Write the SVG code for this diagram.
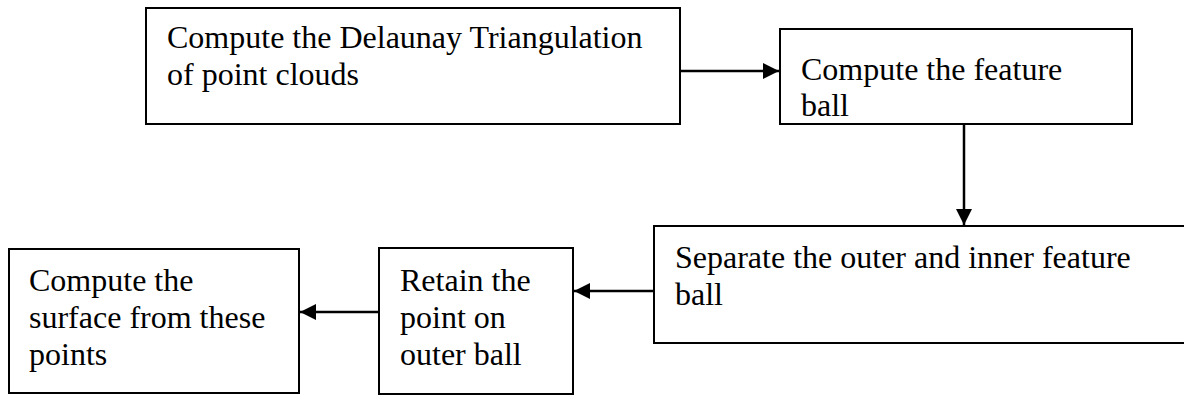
<svg xmlns="http://www.w3.org/2000/svg" width="1184" height="396" viewBox="0 0 1184 396">
<style>
.box{fill:#fff;stroke:#000;stroke-width:2}
.t{font-family:"Liberation Serif","Times New Roman",serif;font-size:32px;fill:#000}
.c{stroke:#000;stroke-width:2.5;fill:none}
</style>
<defs>
<marker id="ah" markerUnits="userSpaceOnUse" markerWidth="17" markerHeight="16" refX="16" refY="8" orient="auto">
<path d="M0,0 L16,8 L0,16 Z" fill="#000"/>
</marker>
</defs>
<rect width="1184" height="396" fill="#fff"/>
<g id="n1">
<rect class="box" x="146" y="8" width="534" height="116"/>
<text class="t" x="167" y="48">Compute the Delaunay Triangulation</text>
<text class="t" x="167" y="85">of point clouds</text>
</g>
<g id="n2">
<rect class="box" x="780" y="29" width="352" height="95"/>
<text class="t" x="801" y="80">Compute the feature</text>
<text class="t" x="801" y="116">ball</text>
</g>
<g id="n3">
<rect class="box" x="654" y="226" width="540" height="117"/>
<text class="t" x="675" y="268">Separate the outer and inner feature</text>
<text class="t" x="675" y="305">ball</text>
</g>
<g id="n4">
<rect class="box" x="379" y="248" width="194" height="146"/>
<text class="t" x="400" y="291">Retain the</text>
<text class="t" x="400" y="328">point on</text>
<text class="t" x="400" y="365">outer ball</text>
</g>
<g id="n5">
<rect class="box" x="9" y="249" width="290" height="144"/>
<text class="t" x="29" y="291">Compute the</text>
<text class="t" x="29" y="328">surface from these</text>
<text class="t" x="29" y="365">points</text>
</g>
<g id="connectors">
<line class="c" x1="681" y1="71" x2="779" y2="71" marker-end="url(#ah)"/>
<line class="c" x1="964" y1="125" x2="964" y2="225" marker-end="url(#ah)"/>
<line class="c" x1="653" y1="291" x2="574" y2="291" marker-end="url(#ah)"/>
<line class="c" x1="378" y1="312" x2="300" y2="312" marker-end="url(#ah)"/>
</g>
</svg>
